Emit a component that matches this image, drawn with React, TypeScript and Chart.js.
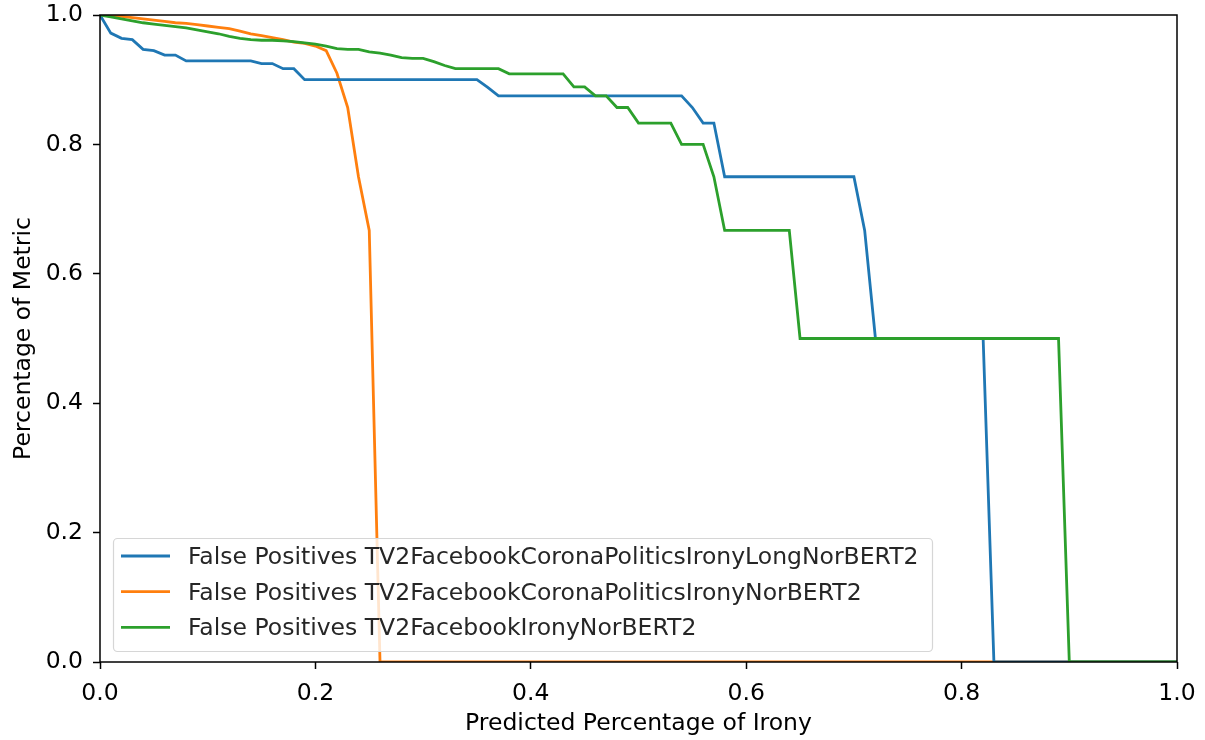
import React, { useEffect, useRef } from "react";
import { Chart, registerables } from "chart.js";

Chart.register(...registerables);

const thresholds: number[] = Array.from({ length: 101 }, (_, i) => i / 100);

const seriesLabels = [
  "False Positives TV2FacebookCoronaPoliticsIronyLongNorBERT2",
  "False Positives TV2FacebookCoronaPoliticsIronyNorBERT2",
  "False Positives TV2FacebookIronyNorBERT2",
];

const seriesColors = ["#1f77b4", "#ff7f0e", "#2ca02c"];

// blue
const longNorBert = [
  1.0, 0.972, 0.964, 0.962, 0.947, 0.945, 0.938, 0.938, 0.929, 0.929,
  0.929, 0.929, 0.929, 0.929, 0.929, 0.925, 0.925, 0.917, 0.917, 0.9,
  0.9, 0.9, 0.9, 0.9, 0.9, 0.9, 0.9, 0.9, 0.9, 0.9,
  0.9, 0.9, 0.9, 0.9, 0.9, 0.9, 0.888, 0.875, 0.875, 0.875,
  0.875, 0.875, 0.875, 0.875, 0.875, 0.875, 0.875, 0.875, 0.875, 0.875,
  0.875, 0.875, 0.875, 0.875, 0.875, 0.857, 0.833, 0.833, 0.75, 0.75,
  0.75, 0.75, 0.75, 0.75, 0.75, 0.75, 0.75, 0.75, 0.75, 0.75,
  0.75, 0.667, 0.5, 0.5, 0.5, 0.5, 0.5, 0.5, 0.5, 0.5,
  0.5, 0.5, 0.5, 0, 0, 0, 0, 0, 0, 0,
  0, 0, 0, 0, 0, 0, 0, 0, 0, 0,
  0,
];

// orange
const coronaNorBert = [
  1.0, 0.999, 0.998, 0.996, 0.994, 0.992, 0.99, 0.988, 0.987, 0.985,
  0.983, 0.981, 0.979, 0.975, 0.971, 0.968, 0.965, 0.962, 0.958, 0.956,
  0.952, 0.945, 0.91, 0.857, 0.75, 0.667, 0, 0, 0, 0,
  0, 0, 0, 0, 0, 0, 0, 0, 0, 0,
  0, 0, 0, 0, 0, 0, 0, 0, 0, 0,
  0, 0, 0, 0, 0, 0, 0, 0, 0, 0,
  0, 0, 0, 0, 0, 0, 0, 0, 0, 0,
  0, 0, 0, 0, 0, 0, 0, 0, 0, 0,
  0, 0, 0, 0, 0, 0, 0, 0, 0, 0,
  0, 0, 0, 0, 0, 0, 0, 0, 0, 0,
  0,
];

// green
const ironyNorBert = [
  1.0, 0.997, 0.994, 0.991, 0.988, 0.986, 0.984, 0.982, 0.98, 0.977,
  0.974, 0.971, 0.967, 0.964, 0.962, 0.961, 0.961, 0.96, 0.959, 0.957,
  0.955, 0.952, 0.948, 0.947, 0.947, 0.943, 0.941, 0.938, 0.934, 0.933,
  0.933, 0.928, 0.922, 0.917, 0.917, 0.917, 0.917, 0.917, 0.909, 0.909,
  0.909, 0.909, 0.909, 0.909, 0.889, 0.889, 0.875, 0.875, 0.857, 0.857,
  0.833, 0.833, 0.833, 0.833, 0.8, 0.8, 0.8, 0.75, 0.667, 0.667,
  0.667, 0.667, 0.667, 0.667, 0.667, 0.5, 0.5, 0.5, 0.5, 0.5,
  0.5, 0.5, 0.5, 0.5, 0.5, 0.5, 0.5, 0.5, 0.5, 0.5,
  0.5, 0.5, 0.5, 0.5, 0.5, 0.5, 0.5, 0.5, 0.5, 0.5,
  0, 0, 0, 0, 0, 0, 0, 0, 0, 0,
  0,
];

const seriesValues = [longNorBert, coronaNorBert, ironyNorBert];
const drawOrder = [1, 2, 0]; // lower = drawn on top (green on top, then blue, then orange)

const xTitle = "Predicted Percentage of Irony";
const yTitle = "Percentage of Metric";

const FONT = "DejaVu Sans";
const FS = 23.5;

const framePlugin = {
  id: "frameAndLegend",
  afterDraw(chart: any) {
    const { ctx, chartArea } = chart;
    ctx.save();
    // spines
    ctx.strokeStyle = "#000";
    ctx.lineWidth = 1.5;
    ctx.strokeRect(
      chartArea.left,
      chartArea.top,
      chartArea.right - chartArea.left,
      chartArea.bottom - chartArea.top
    );
    // legend box
    const bx = 113.5, by = 538.5, bw = 819, bh = 113, r = 4;
    ctx.beginPath();
    ctx.moveTo(bx + r, by);
    ctx.lineTo(bx + bw - r, by);
    ctx.arcTo(bx + bw, by, bx + bw, by + r, r);
    ctx.lineTo(bx + bw, by + bh - r);
    ctx.arcTo(bx + bw, by + bh, bx + bw - r, by + bh, r);
    ctx.lineTo(bx + r, by + bh);
    ctx.arcTo(bx, by + bh, bx, by + bh - r, r);
    ctx.lineTo(bx, by + r);
    ctx.arcTo(bx, by, bx + r, by, r);
    ctx.closePath();
    ctx.fillStyle = "rgba(255,255,255,0.8)";
    ctx.fill();
    ctx.strokeStyle = "#d6d6d6";
    ctx.lineWidth = 1.2;
    ctx.stroke();
    // entries
    ctx.font = `${FS}px "${FONT}"`;
    ctx.textBaseline = "alphabetic";
    ctx.textAlign = "left";
    seriesLabels.forEach((label, i) => {
      const ly = 556 + i * 35.7;
      ctx.strokeStyle = seriesColors[i];
      ctx.lineWidth = 2.8;
      ctx.beginPath();
      ctx.moveTo(121, ly);
      ctx.lineTo(170, ly);
      ctx.stroke();
      ctx.fillStyle = "#262626";
      ctx.fillText(label, 188, ly + 8);
    });
    ctx.restore();
  },
};

export default function App() {
  const ref = useRef<HTMLCanvasElement | null>(null);

  useEffect(() => {
    document.body.style.margin = "0";
    const canvas = ref.current;
    if (!canvas) return;
    Chart.defaults.font.family = FONT;
    const chart = new Chart(canvas, {
      type: "line",
      data: {
        datasets: seriesValues.map((vals, i) => ({
          label: seriesLabels[i],
          data: thresholds.map((t, j) => ({ x: t, y: vals[j] })),
          borderColor: seriesColors[i],
          backgroundColor: seriesColors[i],
          borderWidth: 2.8,
          pointRadius: 0,
          tension: 0,
          fill: false,
          clip: 0,
          order: drawOrder[i],
        })),
      },
      options: {
        animation: false,
        responsive: false,
        devicePixelRatio: 1,
        layout: { padding: { left: 0, right: 28, top: 15, bottom: 0 } },
        plugins: {
          legend: { display: false },
          tooltip: { enabled: false },
        },
        scales: {
          x: {
            type: "linear",
            min: 0,
            max: 1,
            afterFit: (s: any) => {
              s.height = 78;
              s.paddingLeft = 0;
              s.paddingRight = 0;
            },
            ticks: {
              stepSize: 0.2,
              padding: 11,
              color: "#000",
              font: { size: FS, family: FONT },
              callback: (v: any) => Number(v).toFixed(1),
              maxRotation: 0,
            },
            grid: {
              display: true,
              drawOnChartArea: false,
              drawTicks: true,
              tickLength: 7,
              tickWidth: 1.5,
              tickColor: "#000",
            },
            border: { display: false },
            title: {
              display: true,
              text: xTitle,
              color: "#000",
              font: { size: FS, family: FONT },
              padding: { top: 0, bottom: 2 },
            },
          },
          y: {
            type: "linear",
            min: 0,
            max: 1,
            afterFit: (s: any) => {
              s.width = 100;
              s.paddingTop = 0;
              s.paddingBottom = 0;
            },
            ticks: {
              stepSize: 0.2,
              padding: 10,
              color: "#000",
              font: { size: FS, family: FONT },
              callback: (v: any) => Number(v).toFixed(1),
            },
            grid: {
              display: true,
              drawOnChartArea: false,
              drawTicks: true,
              tickLength: 7,
              tickWidth: 1.5,
              tickColor: "#000",
            },
            border: { display: false },
            title: {
              display: true,
              text: yTitle,
              color: "#000",
              font: { size: FS, family: FONT },
              padding: { top: 10, bottom: 0 },
            },
          },
        },
      },
      plugins: [framePlugin],
    });
    return () => chart.destroy();
  }, []);

  return (
    <div style={{ position: "absolute", left: 0, top: 0, width: 1205, height: 740, background: "#fff" }}>
      <canvas ref={ref} width={1205} height={740} style={{ width: 1205, height: 740, display: "block" }} />
    </div>
  );
}
